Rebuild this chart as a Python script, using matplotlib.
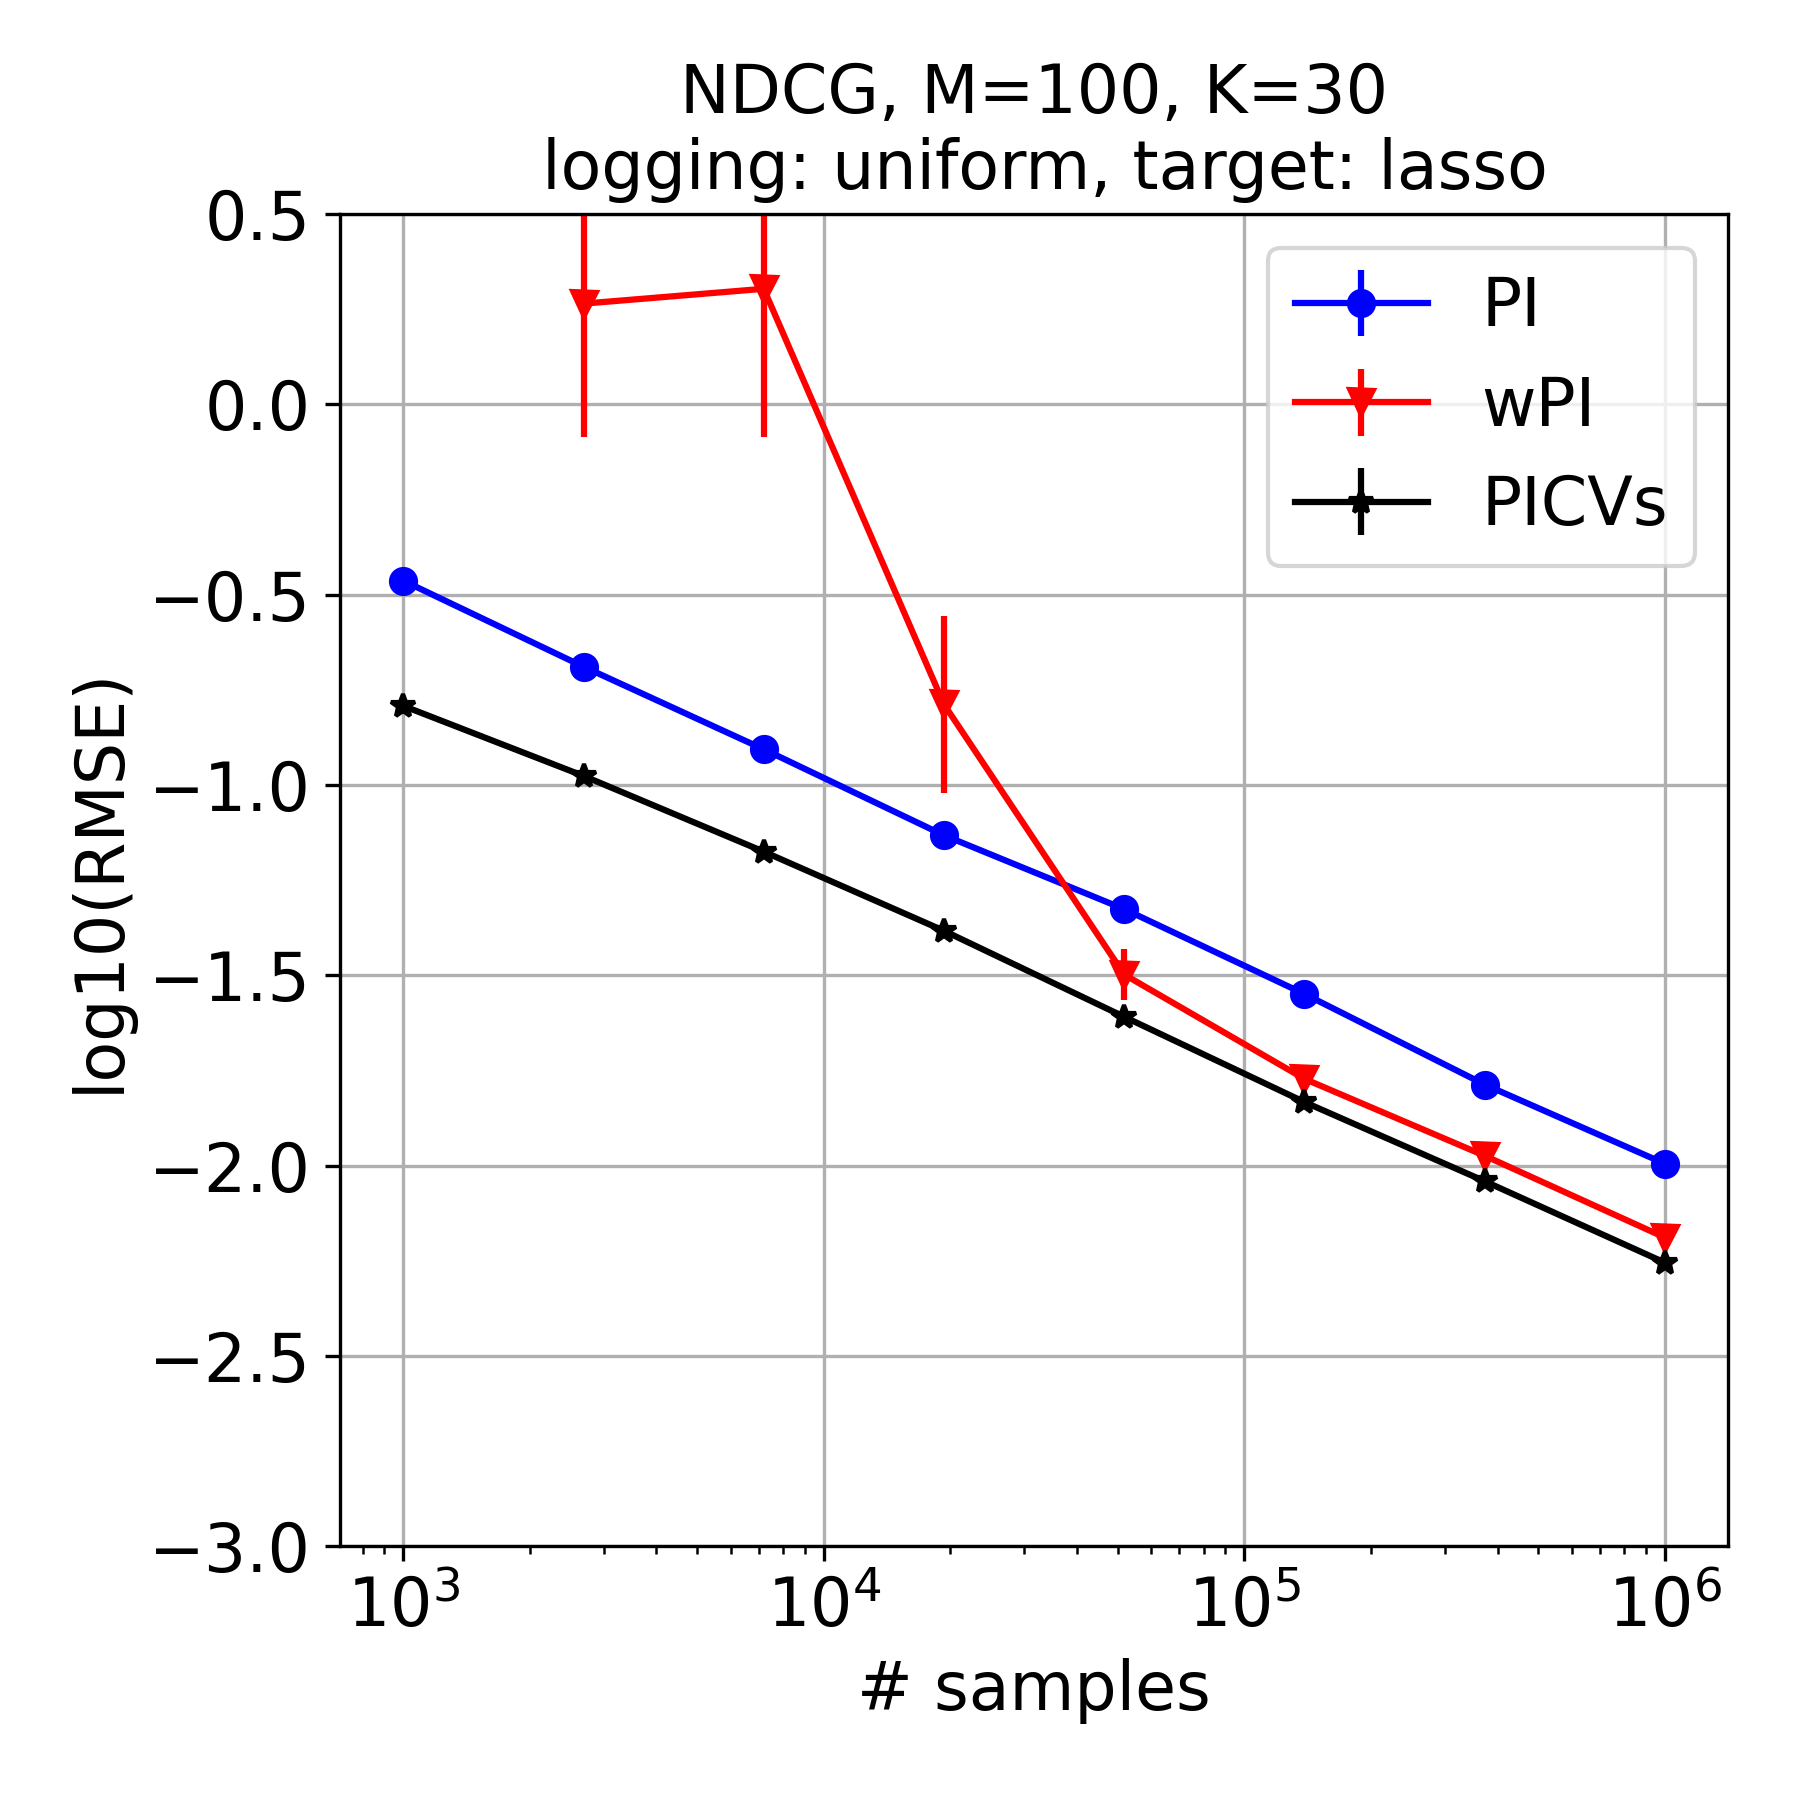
import numpy as np
import matplotlib
matplotlib.use("Agg")
import matplotlib.pyplot as plt

n_samples = [1000, 2683, 7197, 19307, 51795, 138950, 372759, 1000000]

pi_vals = [-0.463, -0.689, -0.906, -1.132, -1.326, -1.549, -1.787, -1.995]
pi_err = [0.005, 0.005, 0.02, 0.01, 0.005, 0.004, 0.003, 0.002]

wpi_vals = [0.265, 0.304, -0.788, -1.498, -1.772, -1.974, -2.189]
wpi_err = [0.35, 0.39, 0.233, 0.068, 0.02, 0.012, 0.008]
wpi_x = n_samples[1:]

picv_vals = [-0.792, -0.976, -1.175, -1.383, -1.609, -1.833, -2.041, -2.255]
picv_err = [0.02, 0.015, 0.012, 0.01, 0.02, 0.01, 0.008, 0.01]

plt.rcParams['font.size'] = 16

fig = plt.figure(figsize=(6, 6), dpi=300)
ax = fig.add_axes([0.189, 0.141, 0.771, 0.740])

ax.errorbar(n_samples, pi_vals, yerr=pi_err, color='blue', marker='o', label='PI')
ax.errorbar(wpi_x, wpi_vals, yerr=wpi_err, color='red', marker='v', label='wPI')
ax.errorbar(n_samples, picv_vals, yerr=picv_err, color='black', marker='*', label='PICVs')

ax.set_xscale('log')
ax.set_ylim(-3.0, 0.5)
ax.set_yticks([0.5, 0.0, -0.5, -1.0, -1.5, -2.0, -2.5, -3.0])
ax.grid(True)
ax.set_xlabel('# samples')
ax.set_ylabel('log10(RMSE)')
ax.set_title('NDCG, M=100, K=30\n logging: uniform, target: lasso', fontsize=16)
ax.legend(loc='upper right')

fig.savefig('out.png', dpi=300)
